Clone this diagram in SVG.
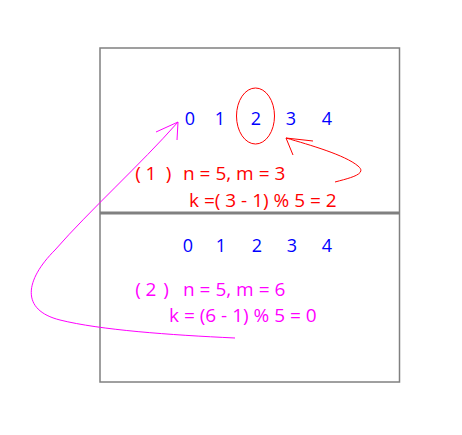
<svg xmlns="http://www.w3.org/2000/svg" width="462" height="435" viewBox="0 0 462 435">
<style>
text{font-family:"Open Sans","Noto Sans",sans-serif;font-size:19px}
.b{fill:#0000ff;font-size:18px}.r{fill:#ff0000}.m{fill:#ff00ff}
.d{text-anchor:middle}
</style>
<rect width="462" height="435" fill="#fff"/>
<g id="frame">
<rect x="100" y="48" width="299.5" height="334" fill="none" stroke="#808080" stroke-width="1.5"/>
<line x1="100" y1="213" x2="400" y2="213" stroke="#808080" stroke-width="3"/>
</g>
<g id="row1">
<text class="b d" x="190" y="125">0</text>
<text class="b d" x="220" y="125">1</text>
<text class="b d" x="256" y="125">2</text>
<text class="b d" x="291" y="125">3</text>
<text class="b d" x="327" y="125">4</text>
<ellipse cx="255.5" cy="116" rx="19" ry="28" fill="none" stroke="#ff0000" stroke-width="1"/>
<text class="r d" x="138" y="180">(</text>
<text class="r d" x="151" y="180">1</text>
<text class="r d" x="168.5" y="180">)</text>
<text class="r" x="183" y="180">n = 5, m = 3</text>
<text class="r" x="189" y="207">k =( 3 - 1) % 5 = 2</text>
</g>
<g id="row2">
<text class="b d" x="188" y="252">0</text>
<text class="b d" x="221" y="252">1</text>
<text class="b d" x="257" y="252">2</text>
<text class="b d" x="292" y="252">3</text>
<text class="b d" x="327" y="252">4</text>
<text class="m d" x="138" y="296">(</text>
<text class="m d" x="151" y="296">2</text>
<text class="m d" x="166" y="296">)</text>
<text class="m" x="183" y="296">n = 5, m = 6</text>
<text class="m" x="169" y="322">k = (6 - 1) % 5 = 0</text>
</g>
<g id="connectors" fill="none" stroke-width="1">
<path d="M335,182 C350,178 368,174 358,166 C345,155 310,145 286,138" stroke="#ff0000"/>
<path d="M313,141 L286,138 L293,155" stroke="#ff0000"/>
<path d="M235,338 C170,335 100,330 60,320 C20,310 25,280 55,250 C90,210 140,165 178,122" stroke="#ff00ff"/>
<path d="M156,132 L178,122 L177,140" stroke="#ff00ff"/>
</g>
</svg>
